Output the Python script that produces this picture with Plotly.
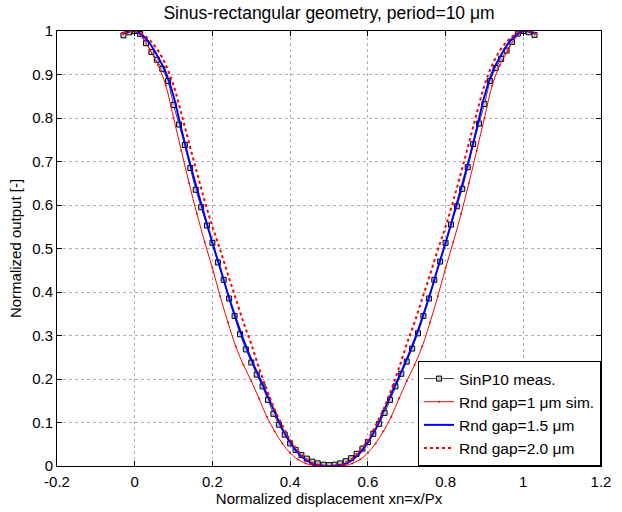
import plotly.graph_objects as go

# ---------------- data ----------------
x_meas = [-0.029, -0.014, 0.000, 0.014, 0.029, 0.043, 0.057, 0.071, 0.086, 0.100,
          0.114, 0.129, 0.143, 0.157, 0.171, 0.186, 0.200, 0.214, 0.229, 0.243,
          0.257, 0.271, 0.286, 0.300, 0.314, 0.329, 0.343, 0.357, 0.371, 0.386,
          0.400, 0.414, 0.429, 0.443, 0.457, 0.471, 0.486, 0.500, 0.514, 0.529,
          0.543, 0.557, 0.571, 0.586, 0.600, 0.614, 0.629, 0.643, 0.657, 0.671,
          0.686, 0.700, 0.714, 0.729, 0.743, 0.757, 0.771, 0.786, 0.800, 0.814,
          0.829, 0.843, 0.857, 0.871, 0.886, 0.900, 0.914, 0.929, 0.943, 0.957,
          0.971, 0.986, 1.000, 1.014, 1.029]
y_meas = [0.990, 0.997, 1.000, 0.993, 0.972, 0.952, 0.934, 0.913, 0.885, 0.830,
          0.785, 0.738, 0.685, 0.635, 0.595, 0.553, 0.513, 0.468, 0.428, 0.385,
          0.345, 0.303, 0.268, 0.238, 0.210, 0.183, 0.152, 0.120, 0.095, 0.072,
          0.052, 0.037, 0.025, 0.017, 0.010, 0.006, 0.003, 0.002, 0.003, 0.006,
          0.011, 0.018, 0.028, 0.040, 0.055, 0.074, 0.097, 0.122, 0.152, 0.183,
          0.212, 0.240, 0.270, 0.305, 0.345, 0.385, 0.428, 0.470, 0.513, 0.555,
          0.597, 0.637, 0.687, 0.740, 0.787, 0.832, 0.885, 0.915, 0.936, 0.955,
          0.975, 0.994, 1.000, 0.997, 0.991]

x_sim = [-0.03, -0.015, 0.00, 0.02, 0.04, 0.06, 0.08, 0.10, 0.12, 0.14, 0.16,
         0.18, 0.20, 0.22, 0.24, 0.26, 0.28, 0.30, 0.32, 0.34, 0.36, 0.38,
         0.40, 0.42, 0.44, 0.46, 0.48, 0.50, 0.52, 0.54, 0.56, 0.58, 0.60,
         0.62, 0.64, 0.66, 0.68, 0.70, 0.72, 0.74, 0.76, 0.78, 0.80, 0.82,
         0.84, 0.86, 0.88, 0.90, 0.92, 0.94, 0.96, 0.98, 1.00, 1.015, 1.03]
y_gap10 = [0.993, 0.998, 1.000, 0.985, 0.955, 0.922, 0.875, 0.800, 0.725, 0.650, 0.580,
           0.515, 0.455, 0.390, 0.330, 0.275, 0.232, 0.195, 0.155, 0.113, 0.080, 0.052,
           0.030, 0.015, 0.006, 0.001, 0.000, 0.000, 0.000, 0.001, 0.006, 0.015, 0.030,
           0.052, 0.080, 0.113, 0.155, 0.195, 0.232, 0.275, 0.330, 0.390, 0.455, 0.515,
           0.580, 0.650, 0.725, 0.800, 0.875, 0.922, 0.955, 0.985, 1.000, 0.998, 0.993]
y_gap15 = [0.995, 0.999, 1.000, 0.990, 0.970, 0.940, 0.905, 0.850, 0.775, 0.703, 0.638,
           0.575, 0.513, 0.455, 0.395, 0.340, 0.290, 0.245, 0.205, 0.165, 0.125, 0.085,
           0.055, 0.030, 0.014, 0.005, 0.001, 0.000, 0.001, 0.005, 0.014, 0.030, 0.055,
           0.085, 0.125, 0.165, 0.205, 0.245, 0.290, 0.340, 0.395, 0.455, 0.513, 0.575,
           0.638, 0.703, 0.775, 0.850, 0.905, 0.940, 0.970, 0.990, 1.000, 0.999, 0.995]
y_gap20 = [0.996, 0.999, 1.000, 0.993, 0.978, 0.955, 0.922, 0.875, 0.810, 0.742, 0.675,
           0.610, 0.550, 0.497, 0.440, 0.385, 0.330, 0.280, 0.225, 0.175, 0.130, 0.093,
           0.060, 0.035, 0.017, 0.006, 0.001, 0.000, 0.001, 0.006, 0.017, 0.035, 0.060,
           0.093, 0.130, 0.175, 0.225, 0.280, 0.330, 0.385, 0.440, 0.497, 0.550, 0.610,
           0.675, 0.742, 0.810, 0.875, 0.922, 0.955, 0.978, 0.993, 1.000, 0.999, 0.996]

x_ticks = [-0.2, 0, 0.2, 0.4, 0.6, 0.8, 1, 1.2]
x_ticklabels = ["-0.2", "0", "0.2", "0.4", "0.6", "0.8", "1", "1.2"]
y_ticks = [0, 0.1, 0.2, 0.3, 0.4, 0.5, 0.6, 0.7, 0.8, 0.9, 1]
y_ticklabels = ["0", "0.1", "0.2", "0.3", "0.4", "0.5", "0.6", "0.7", "0.8", "0.9", "1"]

FONT = "Liberation Sans, Arial, sans-serif"

fig = go.Figure()
fig.add_trace(go.Scatter(
    x=x_meas, y=y_meas, mode="lines+markers", name="SinP10 meas.",
    line=dict(color="#444444", width=1),
    marker=dict(symbol="square", size=5, color="#c8c8c8",
                line=dict(color="black", width=1)),
))
fig.add_trace(go.Scatter(
    x=x_sim, y=y_gap10, mode="lines+markers", name="Rnd gap=1 μm sim.",
    line=dict(color="red", width=1, shape="spline"),
    marker=dict(symbol="circle", size=2, color="red"),
))
fig.add_trace(go.Scatter(
    x=x_sim, y=y_gap15, mode="lines", name="Rnd gap=1.5 μm",
    line=dict(color="blue", width=2, shape="spline"),
))
fig.add_trace(go.Scatter(
    x=x_sim, y=y_gap20, mode="lines", name="Rnd gap=2.0 μm",
    line=dict(color="red", width=2, dash="dot", shape="spline"),
))

axis_common = dict(
    showline=True, linecolor="black", linewidth=1, mirror="ticks",
    ticks="inside", ticklen=5, tickcolor="black",
    showgrid=True, gridcolor="#b0b0b0", gridwidth=1, griddash="dot",
    zeroline=False, tickfont=dict(family=FONT, size=15, color="black"),
)

fig.update_layout(
    width=622, height=512,
    margin=dict(l=57, r=11, t=31, b=44),
    paper_bgcolor="white", plot_bgcolor="white",
    font=dict(family=FONT, size=15, color="black"),
    title=dict(text="Sinus-rectangular geometry, period=10 μm",
               x=0.5, xref="paper", xanchor="center",
               y=1 - 13 / 512, yref="container", yanchor="middle",
               font=dict(family=FONT, size=17.5, color="black")),
    xaxis=dict(range=[-0.2, 1.2], tickvals=x_ticks, ticktext=x_ticklabels,
               ticklabelstandoff=2,
               title=dict(text="Normalized displacement xn=x/Px",
                          font=dict(family=FONT, size=15), standoff=0),
               **axis_common),
    yaxis=dict(range=[0, 1], tickvals=y_ticks, ticktext=y_ticklabels,
               title=dict(text="Normalized output [-]",
                          font=dict(family=FONT, size=15), standoff=6),
               **axis_common),
    legend=dict(x=1, y=0, xanchor="right", yanchor="bottom",
                bgcolor="white", bordercolor="black", borderwidth=1,
                font=dict(family=FONT, size=15.5, color="black"),
                tracegroupgap=0, itemwidth=30),
    showlegend=True,
)

fig.write_html("out.html")
